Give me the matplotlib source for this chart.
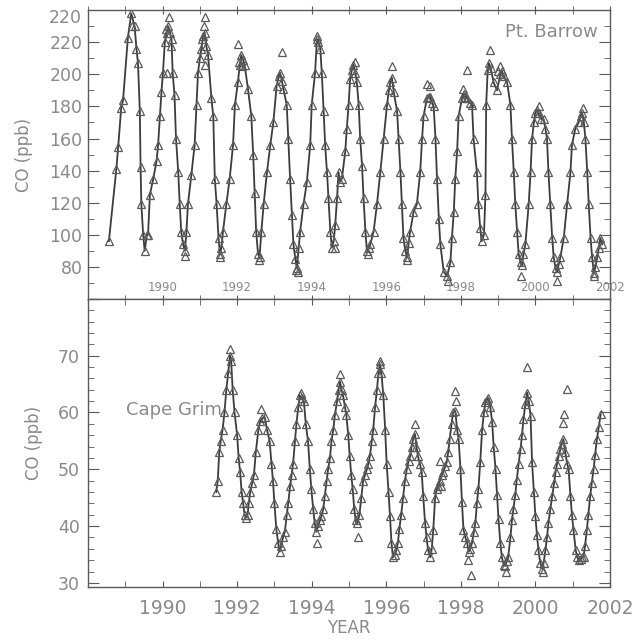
import matplotlib
matplotlib.use('Agg')
import matplotlib.pyplot as plt
from matplotlib.ticker import MultipleLocator

plt.rcParams['font.family'] = ['DejaVu Sans']

# Pt. Barrow CO (ppb) - curve through the observations
barrow_year = [1988.56, 1988.76, 1988.81, 1988.89, 1988.94, 1989.07, 1989.16, 1989.25, 1989.30, 1989.34,
               1989.39, 1989.41, 1989.43, 1989.48, 1989.52, 1989.58, 1989.61, 1989.66, 1989.75, 1989.84,
               1989.88, 1989.93, 1989.97, 1990.01, 1990.06, 1990.11, 1990.15, 1990.20, 1990.24, 1990.27,
               1990.32, 1990.36, 1990.42, 1990.46, 1990.50, 1990.55, 1990.60, 1990.64, 1990.68, 1990.77,
               1990.86, 1990.91, 1990.95, 1991.00, 1991.04, 1991.09, 1991.13, 1991.17, 1991.22, 1991.31,
               1991.36, 1991.40, 1991.45, 1991.50, 1991.54, 1991.58, 1991.62, 1991.71, 1991.80, 1991.89,
               1991.94, 1992.02, 1992.07, 1992.11, 1992.16, 1992.20, 1992.29, 1992.38, 1992.43, 1992.47,
               1992.51, 1992.56, 1992.60, 1992.65, 1992.71, 1992.80, 1992.89, 1992.97, 1993.06, 1993.12,
               1993.15, 1993.20, 1993.24, 1993.33, 1993.37, 1993.42, 1993.47, 1993.51, 1993.56, 1993.60,
               1993.65, 1993.69, 1993.78, 1993.87, 1993.96, 1994.00, 1994.09, 1994.14, 1994.18, 1994.23,
               1994.27, 1994.32, 1994.36, 1994.41, 1994.45, 1994.50, 1994.54, 1994.59, 1994.63, 1994.68,
               1994.72, 1994.76, 1994.81, 1994.90, 1994.94, 1994.99, 1995.03, 1995.08, 1995.12, 1995.17,
               1995.21, 1995.26, 1995.30, 1995.35, 1995.39, 1995.44, 1995.48, 1995.53, 1995.57, 1995.66,
               1995.75, 1995.84, 1995.93, 1996.02, 1996.07, 1996.11, 1996.15, 1996.20, 1996.29, 1996.33,
               1996.38, 1996.42, 1996.46, 1996.51, 1996.56, 1996.60, 1996.64, 1996.73, 1996.82, 1996.91,
               1996.96, 1997.00, 1997.09, 1997.14, 1997.18, 1997.23, 1997.27, 1997.32, 1997.36, 1997.41,
               1997.45, 1997.54, 1997.63, 1997.72, 1997.76, 1997.81, 1997.85, 1997.90, 1997.94, 1998.03,
               1998.08, 1998.12, 1998.17, 1998.25, 1998.30, 1998.34, 1998.43, 1998.47, 1998.52, 1998.56,
               1998.62, 1998.66, 1998.68, 1998.72, 1998.75, 1998.80, 1998.88, 1998.97, 1999.06, 1999.10,
               1999.15, 1999.24, 1999.33, 1999.37, 1999.42, 1999.46, 1999.51, 1999.55, 1999.60, 1999.64,
               1999.68, 1999.73, 1999.82, 1999.87, 1999.91, 1999.96, 2000.00, 2000.04, 2000.09, 2000.16,
               2000.22, 2000.27, 2000.31, 2000.35, 2000.40, 2000.45, 2000.49, 2000.54, 2000.58, 2000.63,
               2000.67, 2000.76, 2000.85, 2000.94, 2000.98, 2001.07, 2001.16, 2001.21, 2001.25, 2001.30,
               2001.34, 2001.39, 2001.43, 2001.48, 2001.52, 2001.57, 2001.61, 2001.66, 2001.70, 2001.74,
               2001.79]
barrow_co = [96, 141, 155, 179, 184, 223, 238, 230, 216, 207,
             177, 142, 119, 100, 90, 100, 100, 125, 135, 146,
             156, 174, 189, 201, 220, 226, 230, 226, 222, 201,
             187, 160, 139, 119, 102, 94, 90, 102, 119, 137,
             156, 181, 201, 210, 216, 224, 226, 218, 212, 185,
             174, 135, 119, 98, 88, 92, 102, 119, 135, 156,
             181, 195, 206, 212, 209, 206, 191, 174, 150, 126,
             102, 88, 86, 102, 119, 139, 156, 170, 193, 199,
             201, 196, 191, 181, 160, 135, 112, 94, 85, 79,
             92, 102, 119, 133, 156, 181, 201, 222, 220, 216,
             201, 177, 156, 139, 123, 102, 92, 96, 106, 123,
             139, 133, 135, 152, 166, 181, 197, 203, 206, 201,
             195, 181, 160, 143, 123, 102, 90, 92, 94, 102,
             119, 139, 160, 181, 190, 195, 198, 189, 177, 160,
             139, 119, 98, 90, 86, 95, 102, 114, 119, 139,
             160, 174, 185, 186, 186, 182, 180, 160, 135, 110,
             94, 77, 74, 83, 98, 114, 135, 152, 174, 185,
             188, 186, 185, 182, 181, 160, 139, 119, 104, 96,
             100, 125, 181, 203, 207, 204, 195, 190, 200, 202,
             199, 195, 181, 160, 139, 119, 102, 88, 83, 81,
             88, 94, 119, 139, 160, 170, 176, 178, 176, 172,
             172, 166, 160, 139, 119, 98, 86, 79, 77, 82,
             86, 98, 119, 139, 156, 166, 170, 174, 176, 170,
             160, 139, 119, 98, 86, 76, 80, 86, 92, 98,
             94]

# Pt. Barrow observations lying off the curve
barrow_extra_year = [1989.19, 1990.08, 1990.12, 1990.17, 1990.22, 1990.61, 1991.07, 1991.11, 1991.13, 1991.15,
                     1991.55, 1992.03, 1992.06, 1992.13, 1992.58, 1993.20, 1993.58, 1993.62, 1994.15, 1994.62,
                     1995.15, 1995.50, 1996.15, 1996.55, 1997.10, 1997.16, 1997.65, 1998.05, 1998.17, 1998.79,
                     1999.00, 1999.05, 1999.60, 2000.10, 2000.58, 2001.27, 2001.56]
barrow_extra_co = [230, 228, 201, 236, 218, 87, 222, 230, 236, 206,
                   86, 219, 208, 205, 84, 214, 78, 77, 224, 92,
                   208, 88, 205, 84, 194, 193, 71, 191, 203, 215,
                   202, 205, 74, 180, 71, 179, 74]

# Cape Grim CO (ppb) - curve through the observations
grim_year = [1991.44, 1991.48, 1991.52, 1991.56, 1991.61, 1991.66, 1991.71, 1991.76, 1991.81, 1991.84,
             1991.88, 1991.93, 1992.00, 1992.04, 1992.08, 1992.12, 1992.16, 1992.20, 1992.24, 1992.28,
             1992.31, 1992.35, 1992.40, 1992.45, 1992.50, 1992.57, 1992.62, 1992.68, 1992.74, 1992.80,
             1992.87, 1992.92, 1992.96, 1993.00, 1993.05, 1993.10, 1993.14, 1993.18, 1993.23, 1993.28,
             1993.33, 1993.37, 1993.42, 1993.46, 1993.50, 1993.55, 1993.59, 1993.64, 1993.68, 1993.74,
             1993.79, 1993.84, 1993.90, 1993.95, 1993.99, 1994.04, 1994.08, 1994.12, 1994.17, 1994.22,
             1994.26, 1994.31, 1994.35, 1994.40, 1994.44, 1994.49, 1994.53, 1994.58, 1994.62, 1994.68,
             1994.72, 1994.76, 1994.80, 1994.84, 1994.89, 1994.93, 1994.98, 1995.02, 1995.06, 1995.10,
             1995.14, 1995.18, 1995.22, 1995.28, 1995.33, 1995.38, 1995.43, 1995.48, 1995.52, 1995.56,
             1995.61, 1995.65, 1995.70, 1995.75, 1995.79, 1995.83, 1995.87, 1995.92, 1995.97, 1996.01,
             1996.06, 1996.10, 1996.14, 1996.18, 1996.23, 1996.27, 1996.31, 1996.35, 1996.40, 1996.45,
             1996.50, 1996.55, 1996.60, 1996.64, 1996.68, 1996.72, 1996.77, 1996.81, 1996.85, 1996.90,
             1996.95, 1996.99, 1997.04, 1997.08, 1997.12, 1997.18, 1997.22, 1997.26, 1997.31, 1997.35,
             1997.39, 1997.44, 1997.49, 1997.53, 1997.58, 1997.62, 1997.66, 1997.70, 1997.75, 1997.79,
             1997.85, 1997.90, 1997.94, 1997.99, 1998.03, 1998.07, 1998.12, 1998.17, 1998.21, 1998.25,
             1998.30, 1998.35, 1998.39, 1998.43, 1998.47, 1998.52, 1998.57, 1998.62, 1998.66, 1998.70,
             1998.74, 1998.79, 1998.84, 1998.88, 1998.93, 1998.97, 1999.01, 1999.06, 1999.10, 1999.15,
             1999.19, 1999.23, 1999.27, 1999.33, 1999.37, 1999.41, 1999.46, 1999.50, 1999.55, 1999.60,
             1999.64, 1999.68, 1999.73, 1999.78, 1999.82, 1999.87, 1999.91, 1999.96, 2000.00, 2000.04,
             2000.08, 2000.13, 2000.18, 2000.22, 2000.27, 2000.31, 2000.35, 2000.40, 2000.45, 2000.50,
             2000.54, 2000.58, 2000.62, 2000.67, 2000.71, 2000.75, 2000.80, 2000.85, 2000.89, 2000.94,
             2000.98, 2001.02, 2001.08, 2001.12, 2001.16, 2001.21, 2001.25, 2001.29, 2001.33, 2001.38,
             2001.42, 2001.47, 2001.51, 2001.56, 2001.60, 2001.65, 2001.70, 2001.75]
grim_co = [46, 48, 53, 55, 57, 60, 64, 67, 70, 69,
           64, 60, 56, 52, 49.5, 46, 44, 42, 41.5, 42,
           44, 46, 47.5, 49, 53, 57, 58.5, 59, 59.2, 57,
           55, 51, 48, 44, 39.5, 37, 35.5, 36.5, 38, 39,
           42, 44, 47, 49, 51, 55, 58, 61, 63, 62.5,
           62, 58, 55, 50, 46.5, 43, 40.6, 39, 40, 41,
           41.7, 43, 45.3, 48, 50, 52, 55, 57, 59.5, 62,
           64, 65.4, 64, 63, 61, 59.5, 56, 52.3, 49, 46.5,
           43, 41, 40.5, 42, 45, 48, 49, 50, 51, 52.3,
           55, 57, 61, 64, 67, 68.5, 67, 63, 57, 51,
           46, 41.7, 37, 34.5, 35, 35.8, 37, 39.5, 42, 45,
           48, 50, 51.5, 52.3, 54, 55.3, 56.2, 54, 52.3, 51,
           49.5, 45.3, 40.6, 38, 35.8, 34.5, 36, 39.4, 45, 46.5,
           47, 48, 49, 49.5, 50.5, 51.2, 53, 55.3, 58, 60,
           60.3, 57, 55.3, 50, 44.2, 39.4, 38, 37, 35.5, 36,
           37, 39, 40.6, 44, 46.5, 51.2, 57, 60, 61.8, 62.2,
           62.5, 61, 58.3, 54, 50, 45.5, 41.2, 37, 34.5, 33.2,
           33, 33.8, 34.6, 38, 41, 43, 45.5, 48.2, 51, 53.5,
           56, 58.8, 61.5, 63.5, 62, 59.4, 51.2, 46, 41.7, 38.5,
           35.8, 33.5, 32.5, 33.5, 35.8, 38, 40.6, 43, 45.3, 47.5,
           49.5, 51, 52.3, 53.5, 54.5, 55.3, 53, 51, 50, 45.3,
           42, 39.4, 35.8, 34.5, 34, 34.2, 34.6, 34.6, 36.5, 39.4,
           42, 45.3, 47.5, 50, 52.5, 55.3, 57.5, 59.7]

# Cape Grim observations lying off the curve
grim_extra_year = [1991.81, 1992.65, 1993.70, 1994.14, 1994.76, 1995.24, 1995.84, 1996.77, 1997.45, 1997.47,
                   1997.85, 1997.87, 1998.20, 1998.28, 1999.20, 1999.78, 2000.20, 2000.75, 2000.76, 2000.86]
grim_extra_co = [71.2, 60.6, 63.5, 37, 66.8, 38.1, 69, 58, 51.4, 47,
                 63.8, 62, 34, 31.4, 32, 68, 32, 58.1, 59.7, 64.2]

year_labels = [1990, 1992, 1994, 1996, 1998, 2000, 2002]

line_col = '#3c3c3c'
mark_col = '#5a5a5a'
text_col = '#8a8a8a'
axis_col = '#5a5a5a'

fig = plt.figure(figsize=(6.35, 6.4), dpi=100)
ax1 = fig.add_axes([0.1386, 0.533, 0.822, 0.451])
ax2 = fig.add_axes([0.1386, 0.083, 0.822, 0.450])

for ax, yr, co, eyr, eco in [(ax1, barrow_year, barrow_co, barrow_extra_year, barrow_extra_co),
                             (ax2, grim_year, grim_co, grim_extra_year, grim_extra_co)]:
    ax.plot(yr, co, color=line_col, lw=1.3, marker='^', ms=5.5, mfc='none', mec=mark_col, mew=0.9)
    ax.plot(eyr, eco, ls='none', marker='^', ms=5.5, mfc='none', mec=mark_col, mew=0.9)
    for s in ax.spines.values():
        s.set_color(axis_col)
        s.set_linewidth(1.0)
    ax.set_xlim(1988, 2002)
    ax.set_xticks(year_labels)
    ax.xaxis.set_minor_locator(MultipleLocator(1))
    ax.tick_params(axis='both', which='both', colors=axis_col, labelcolor=text_col)
    ax.tick_params(axis='y', which='both', direction='in', left=True, right=True)
    ax.tick_params(axis='y', which='major', length=8)
    ax.tick_params(axis='y', which='minor', length=4)

# top panel: Pt. Barrow
ax1.set_ylim(60, 240)
ax1.set_yticks([80, 100, 120, 140, 160, 180, 200, 220])
ax1.yaxis.set_minor_locator(MultipleLocator(10))
ax1.tick_params(axis='y', labelsize=12.5, pad=4)
ax1.tick_params(axis='x', which='both', direction='inout', top=True, length=6, labelbottom=False)
# the top tick reads 220 in the original figure
ax1.text(-0.012, 235, '220', transform=ax1.get_yaxis_transform(), ha='right', va='center',
         fontsize=12.5, color=text_col)
for y in year_labels:
    ax1.text(y, 0.038, str(y), transform=ax1.get_xaxis_transform(), ha='center', va='center',
             fontsize=8.5, color=text_col)
ax1.text(0.977, 0.925, 'Pt. Barrow', transform=ax1.transAxes, ha='right', va='center',
         fontsize=13, color=text_col)
ax1.set_ylabel('CO (ppb)', fontsize=12, color=text_col)
ax1.yaxis.set_label_coords(-0.105, 0.5)

# bottom panel: Cape Grim
ax2.set_ylim(29.3, 80)
ax2.set_yticks([30, 40, 50, 60, 70, 80])
ax2.set_yticklabels(['30', '40', '50', '60', '70', ''])
ax2.yaxis.set_minor_locator(MultipleLocator(2))
ax2.tick_params(axis='y', labelsize=12.5, pad=6)
ax2.tick_params(axis='x', which='both', direction='in', top=True, length=4, labelsize=13.5, pad=9)
ax2.text(0.073, 0.615, 'Cape Grim', transform=ax2.transAxes, ha='left', va='center',
         fontsize=13, color=text_col)
ax2.set_ylabel('CO (ppb)', fontsize=12, color=text_col)
ax2.yaxis.set_label_coords(-0.086, 0.5)
ax2.set_xlabel('YEAR', fontsize=12, color=text_col, labelpad=0.5)

fig.savefig('out.png', dpi=100)
